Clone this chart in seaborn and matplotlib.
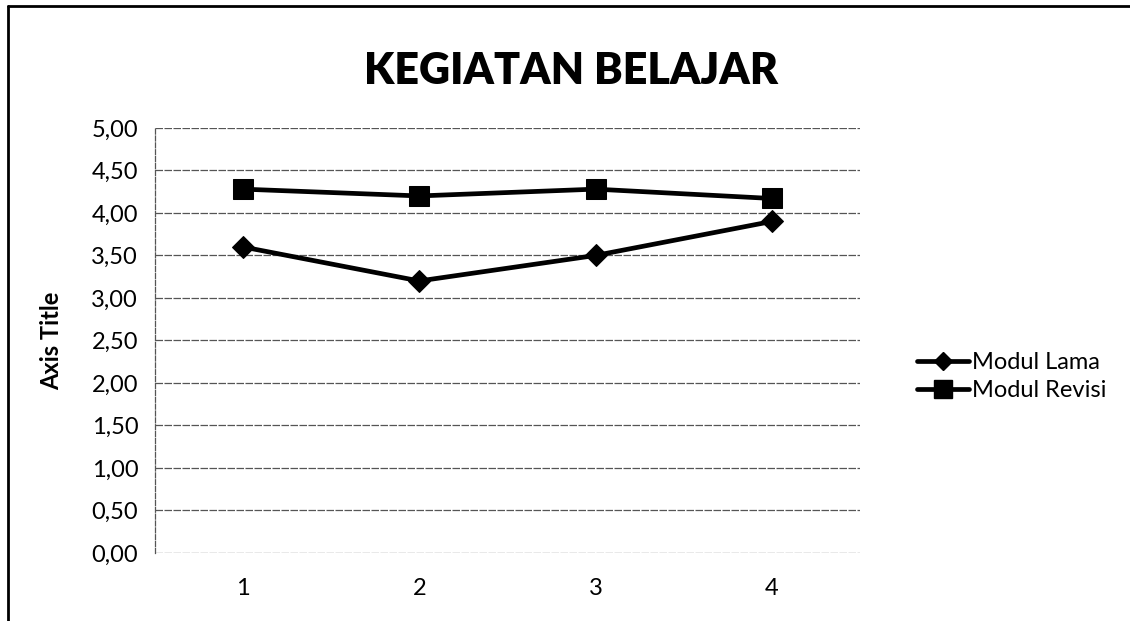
import matplotlib
matplotlib.use("Agg")
import matplotlib.pyplot as plt
import seaborn as sns
import pandas as pd
from matplotlib.lines import Line2D
from matplotlib.ticker import FuncFormatter, MultipleLocator

categories = [1, 2, 3, 4]
modul_lama = [3.60, 3.20, 3.50, 3.90]
modul_revisi = [4.28, 4.20, 4.28, 4.17]
series_names = ["Modul Lama", "Modul Revisi"]

df = pd.DataFrame({
    "x": categories * 2,
    "y": modul_lama + modul_revisi,
    "series": [series_names[0]] * 4 + [series_names[1]] * 4,
})

sns.set_theme(style="white")
plt.rcParams['font.family'] = ['Lato', 'DejaVu Sans']
plt.rcParams['text.color'] = 'black'
plt.rcParams['axes.labelcolor'] = 'black'

fig = plt.figure(figsize=(11.3, 6.21), dpi=100)
ax = fig.add_axes([0.137, 0.1095, 0.624, 0.6845])

sns.lineplot(data=df, x="x", y="y", hue="series", style="series",
             palette=["black", "black"], markers={"Modul Lama": "D", "Modul Revisi": "s"},
             dashes=False, linewidth=3.4, markersize=13, markeredgecolor="black",
             ax=ax, legend=False)
for line, ms in zip(ax.lines, [11, 14.5]):
    line.set_markersize(ms)

ax.set_xlim(0.5, 4.5)
ax.set_ylim(0, 5)
ax.yaxis.set_major_locator(MultipleLocator(0.5))
ax.yaxis.set_major_formatter(FuncFormatter(lambda v, p: f"{v:.2f}".replace(".", ",")))
ax.set_xticks(categories)
ax.set_xticklabels([str(c) for c in categories])
ax.tick_params(axis="both", length=0, labelsize=17, colors="black")
ax.tick_params(axis="x", pad=18)
ax.tick_params(axis="y", pad=12)
ax.yaxis.grid(True, color="#555555", linewidth=0.9, linestyle=(0, (6, 1.2)))
ax.set_axisbelow(True)
for s in ["top", "right"]:
    ax.spines[s].set_visible(False)
ax.spines["left"].set_color("#555555")
ax.spines["left"].set_linewidth(0.9)
ax.spines["left"].set_linestyle((0, (4, 1.5)))
ax.spines["bottom"].set_visible(False)
ax.set_xlabel("")
ax.set_ylabel("Axis Title", fontsize=17, fontweight="bold", labelpad=20, color="black")

fig.suptitle("KEGIATAN BELAJAR", x=0.505, y=0.918, fontsize=31, fontweight="heavy",
             color="black")

handles = [
    Line2D([], [], color="black", linewidth=3.4, marker="D", markersize=9),
    Line2D([], [], color="black", linewidth=3.4, marker="s", markersize=12.5),
]
leg = fig.legend(handles, series_names, loc="center left", bbox_to_anchor=(0.793, 0.394),
                 frameon=False, fontsize=17, handlelength=2.2, handletextpad=0.1,
                 labelspacing=0.3)
for t in leg.get_texts():
    t.set_color("black")

fig.add_artist(Line2D([0.007, 0.007], [0.0, 0.99], transform=fig.transFigure,
                      color="black", linewidth=2.0))
fig.add_artist(Line2D([0.007, 1.0], [0.99, 0.99], transform=fig.transFigure,
                      color="black", linewidth=2.0))

fig.savefig("out.png", dpi=100, facecolor="white")
